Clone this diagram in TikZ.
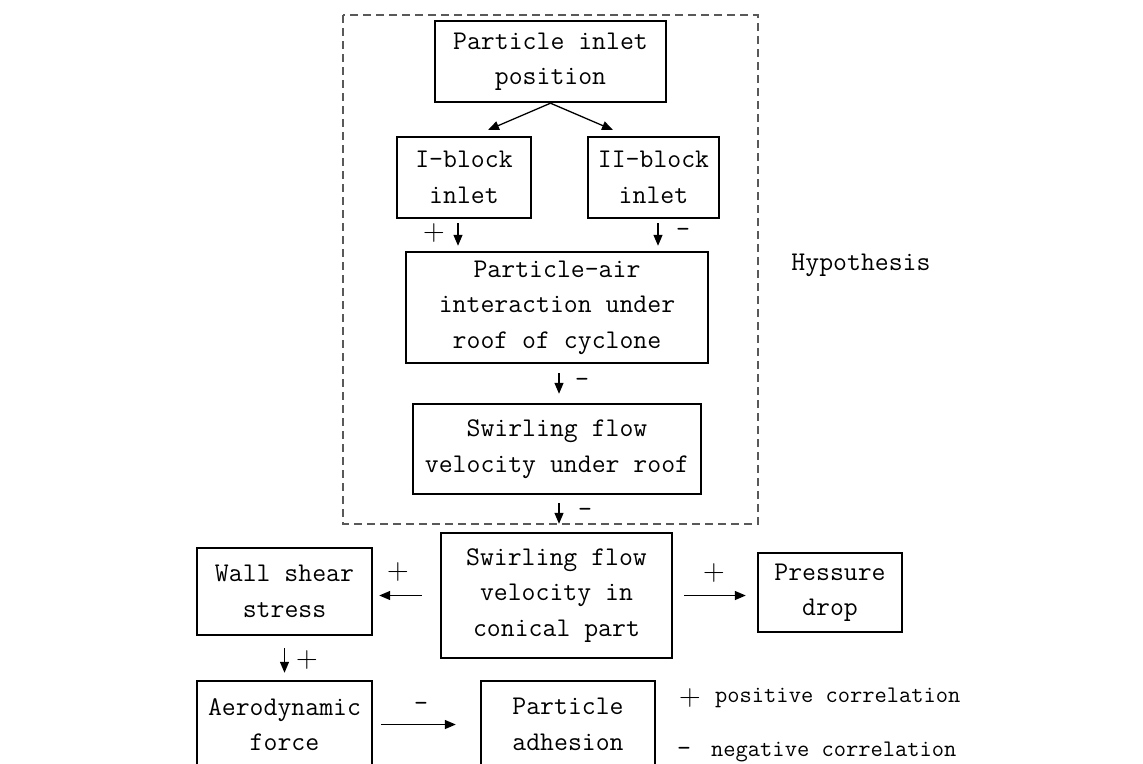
\documentclass[tikz,border=0pt]{standalone}
\usetikzlibrary{arrows.meta}
\begin{document}
\begin{tikzpicture}[x=1pt,y=-1pt,
  every node/.style={font=\ttfamily\fontsize{27}{35.5}\selectfont, inner sep=0pt},
  box/.style={draw, line width=2.4pt, align=center},
  arr/.style={line width=1.3pt, -{Triangle[length=11pt,width=9pt]}},
  sign/.style={font=\rmfamily\fontsize{30}{30}\selectfont},
  neg/.style={font=\ttfamily\fontsize{27}{27}\selectfont},
  legend/.style={font=\ttfamily\fontsize{23.8}{28}\selectfont, anchor=west},
  hyp/.style={draw=black!65, line width=1.2pt, dash pattern=on 8pt off 5pt}]
\useasboundingbox (0,0) rectangle (1143,763);
\clip (0,0) rectangle (1143,763);
\fill[white] (0,0) rectangle (1143,763);

% hypothesis frame
\draw[hyp] (343,15) rectangle (758,524);
\node (hyptext) at (861,265) {Hypothesis};

% nodes
\node[box, minimum width=231pt, minimum height=81pt] (top) at (550.5,61.5) {Particle inlet\\position};
\node[box, minimum width=134pt, minimum height=81pt] (ib) at (464,177.5) {I-block\\inlet};
\node[box, minimum width=131pt, minimum height=81pt] (iib) at (653.5,177.5) {II-block\\inlet};
\node[box, minimum width=302pt, minimum height=111pt] (pa) at (557,307.5) {Particle-air\\interaction under\\roof of cyclone};
\node[box, minimum width=288pt, minimum height=90pt] (roof) at (557,449) {Swirling flow\\velocity under roof};
\node[box, minimum width=231pt, minimum height=125pt] (con) at (556.5,595.5) {Swirling flow\\velocity in\\conical part};
\node[box, minimum width=175pt, minimum height=87pt] (wall) at (284.5,591.5) {Wall shear\\stress};
\node[box, minimum width=144pt, minimum height=79pt] (pd) at (830,592.5) {Pressure\\drop};
\node[box, minimum width=175pt, minimum height=87pt] (aero) at (284.5,724.5) {Aerodynamic\\force};
\node[box, minimum width=174pt, minimum height=87pt] (adh) at (568,724.5) {Particle\\adhesion};

% connectors
\coordinate (t1) at (488,130);
\coordinate (t2) at (613,130);
\draw[arr] (top.south) -- (t1);
\draw[arr] (top.south) -- (t2);
\coordinate (xa) at (458,0);
\coordinate (xb) at (658,0);
\coordinate (xc) at (559,0);
\draw[arr, shorten <=4pt, shorten >=5pt] (ib.south -| xa) -- (pa.north -| xa);
\draw[arr, shorten <=4pt, shorten >=5pt] (iib.south -| xb) -- (pa.north -| xb);
\draw[arr, shorten <=9pt, shorten >=9pt] (pa.south -| xc) -- (roof.north -| xc);
\draw[arr, shorten <=8pt, shorten >=8pt] (roof.south -| xc) -- (con.north -| xc);
\draw[arr, shorten <=18pt, shorten >=6pt] (con.west) -- (wall.east |- con.west);
\draw[arr, shorten <=11pt, shorten >=11pt] (con.east) -- (pd.west |- con.east);
\draw[arr, shorten <=12pt, shorten >=7pt] (wall.south) -- (aero.north);
\draw[arr, shorten <=8pt, shorten >=24pt] (aero.east) -- (adh.west);

% signs
\node[sign] (s1) at (434,233) {+};
\node[neg] (s2) at (683,233) {-};
\node[neg] (s3) at (582,383) {-};
\node[neg] (s4) at (585,513) {-};
\node[sign] (s5) at (398,572) {+};
\node[sign] (s6) at (714,573) {+};
\node[sign] (s7) at (307,660) {+};
\node[neg] (s8) at (421,707) {-};

% legend
\node[sign] (lp) at (690,698) {+};
\node[legend] (lpt) at (715,698) {positive correlation};
\node[neg] (lm) at (684,752) {-};
\node[legend] (lmt) at (711,752) {negative correlation};
\end{tikzpicture}
\end{document}
